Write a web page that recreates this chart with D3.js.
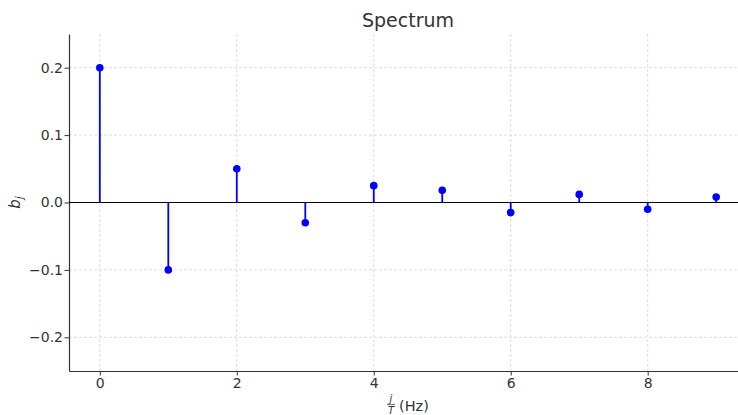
<!DOCTYPE html>
<html>
<head>
<meta charset="utf-8">
<script src="https://cdn.jsdelivr.net/npm/d3@7"></script>
<style>
	body { margin: 0; background: #fff; }
	text { font-family: "DejaVu Sans", sans-serif; fill: #333; }
</style>
</head>
<body>
<div id="chart"></div>
<script>
// stem values b_j for j = 0..9
const freqs = [0, 1, 2, 3, 4, 5, 6, 7, 8, 9];
const coeffs = [0.2, -0.1, 0.05, -0.03, 0.025, 0.018, -0.015, 0.012, -0.01, 0.008];
const xTicks = [0, 2, 4, 6, 8];
const yTicks = [-0.2, -0.1, 0.0, 0.1, 0.2];

const width = 738;
const height = 415;
const margin = { top: 34, right: -9, bottom: 44, left: 69 };

const svg = d3.select("#chart")
	.append("svg")
		.attr("width", width)
		.attr("height", height);

const x = d3.scaleLinear()
	.domain([-0.45, 9.45])
	.range([margin.left, width - margin.right]);
const y = d3.scaleLinear()
	.domain([-0.25, 0.25])
	.range([height - margin.bottom, margin.top]);

const plotBottom = height - margin.bottom;

// grid
svg.append("g")
	.selectAll("line")
	.data(xTicks)
	.join("line")
		.attr("x1", (d) => x(d)).attr("x2", (d) => x(d))
		.attr("y1", margin.top).attr("y2", plotBottom)
		.style("stroke", "#d4d4d4")
		.style("stroke-width", 0.8)
		.style("stroke-dasharray", "3,2");
svg.append("g")
	.selectAll("line")
	.data(yTicks)
	.join("line")
		.attr("x1", margin.left).attr("x2", width)
		.attr("y1", (d) => y(d)).attr("y2", (d) => y(d))
		.style("stroke", "#d4d4d4")
		.style("stroke-width", 0.8)
		.style("stroke-dasharray", "3,2");

// axes
const fmt = (d) => d3.format(".1f")(d).replace("-", "\u2212");
const xAxis = svg.append("g")
	.attr("transform", `translate(0,${plotBottom})`)
	.call(d3.axisBottom(x).tickValues(xTicks).tickSize(4.5).tickPadding(2.5).tickSizeOuter(0));
const yAxis = svg.append("g")
	.attr("transform", `translate(${margin.left},0)`)
	.call(d3.axisLeft(y).tickValues(yTicks).tickFormat(fmt).tickSize(4.5).tickPadding(1.5).tickSizeOuter(0));

[xAxis, yAxis].forEach((a) => {
	a.attr("font-size", null).attr("font-family", null);
	a.select(".domain").style("stroke", "#333").style("stroke-width", 1.2);
	a.selectAll(".tick line").style("stroke", "#333");
	a.selectAll(".tick text")
		.style("font-size", "14px")
		.style("fill", "#333");
});

// zero line
svg.append("line")
	.attr("x1", margin.left).attr("x2", width)
	.attr("y1", y(0)).attr("y2", y(0))
	.style("stroke", "#000")
	.style("stroke-width", 1.2);

// stems
const pts = freqs.map((f, i) => ({ f: f, b: coeffs[i] }));
svg.append("g")
	.selectAll("line")
	.data(pts)
	.join("line")
		.attr("x1", (d) => x(d.f)).attr("x2", (d) => x(d.f))
		.attr("y1", y(0)).attr("y2", (d) => y(d.b))
		.style("stroke", "blue")
		.style("stroke-width", 1.8);
svg.append("g")
	.selectAll("circle")
	.data(pts)
	.join("circle")
		.attr("cx", (d) => x(d.f))
		.attr("cy", (d) => y(d.b))
		.attr("r", 3.8)
		.style("fill", "blue");

// title
svg.append("text")
	.text("Spectrum")
	.attr("x", 408)
	.attr("y", 27)
	.attr("text-anchor", "middle")
	.style("font-size", "19px");

// y label b_j
const yl = svg.append("text")
	.attr("transform", `translate(20,${y(0)}) rotate(-90)`)
	.attr("text-anchor", "middle")
	.style("font-size", "15px")
	.style("font-style", "italic");
yl.append("tspan").text("b");
yl.append("tspan").text("j").attr("dy", 3).style("font-size", "10.5px");

// x label j/T (Hz)
const xc = 391;
const xl = svg.append("g");
xl.append("text").text("j")
	.attr("x", xc).attr("y", 402)
	.attr("text-anchor", "middle")
	.style("font-size", "10px").style("font-style", "italic");
xl.append("line")
	.attr("x1", xc - 4).attr("x2", xc + 4)
	.attr("y1", 404.5).attr("y2", 404.5)
	.style("stroke", "#333").style("stroke-width", 0.7);
xl.append("text").text("T")
	.attr("x", xc).attr("y", 414)
	.attr("text-anchor", "middle")
	.style("font-size", "10px").style("font-style", "italic");
xl.append("text").text("(Hz)")
	.attr("x", xc + 8).attr("y", 411)
	.style("font-size", "14.5px");
</script>
</body>
</html>
